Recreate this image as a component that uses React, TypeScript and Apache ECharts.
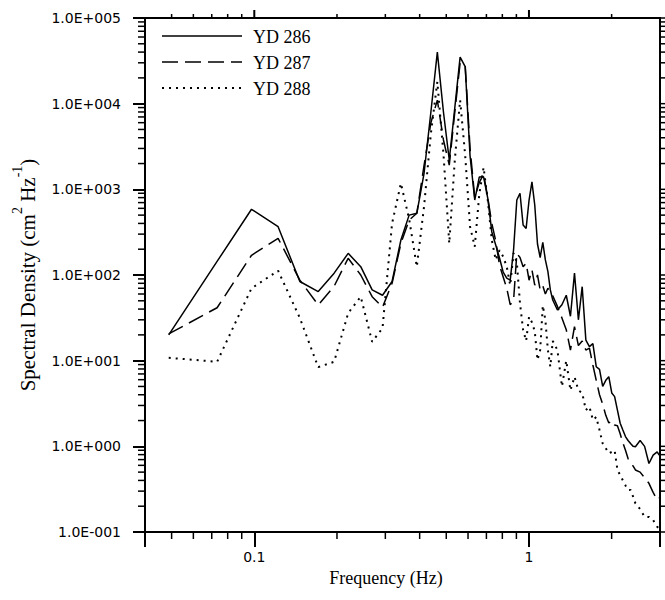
import React, { useEffect, useRef } from "react";
import * as echarts from "echarts";

// Frequencies (Hz) of the spectral estimates
const FREQ_HZ = [
  0.0488, 0.0732, 0.0977, 0.1221, 0.1465, 0.1709, 0.1953, 0.2197, 0.2441, 0.2686,
  0.293, 0.3174, 0.3418, 0.3662, 0.3906, 0.415, 0.4395, 0.4639, 0.4883, 0.5127,
  0.5371, 0.5615, 0.5859, 0.6104, 0.6348, 0.6592, 0.6836, 0.708, 0.7324, 0.7568,
  0.7813, 0.8057, 0.8301, 0.8545, 0.8789, 0.9033, 0.9277, 0.9521, 0.9766, 1.001,
  1.0254, 1.0498, 1.0742, 1.0986, 1.123, 1.1475, 1.1719, 1.1963, 1.2207,
  1.2695, 1.3184, 1.3672, 1.416, 1.4648, 1.5137, 1.5625, 1.6113, 1.6602, 1.709,
  1.7578, 1.8066, 1.8555, 1.9043, 1.9531, 2.002, 2.0508, 2.0996, 2.1484, 2.1973,
  2.2461, 2.2949, 2.3438, 2.3926, 2.4414,
  2.5391, 2.6367, 2.7344, 2.832, 2.9297, 2.9785,
];

// Spectral density (cm^2 Hz^-1)
const YD_286 = [
  20, 144, 585, 366, 84, 64, 105, 179, 125, 67,
  58, 84, 256, 500, 525, 1540, 8000, 40000, 8000, 2200,
  9000, 35000, 27000, 2450, 750, 1390, 1400, 790, 318, 224,
  158, 108, 92, 87, 196, 750, 900, 384, 350, 750,
  1220, 656, 230, 160, 240, 150, 110, 67, 51,
  39, 45, 58, 33, 105, 30, 73, 17.4, 14.6, 15.8,
  8.5, 7.9, 5.0, 5.9, 6.5, 4.2, 3.8, 2.65, 1.86, 1.55,
  1.3, 1.17, 1.08, 1.0, 0.99,
  1.17, 1.0, 0.63, 0.79, 0.86, 0.79,
];

const YD_287 = [
  20.5, 41.5, 170, 268, 87, 44.7, 74, 157, 100, 55.8,
  42, 80, 234, 438, 525, 1900, 6000, 11000, 3770, 1920,
  8000, 30000, 28000, 3000, 800, 1200, 1500, 800, 400, 250,
  130, 95, 70, 45, 50, 179, 160, 125, 137, 87,
  115, 76, 100, 67, 75, 60, 70, 63, 57,
  43, 31.5, 23, 13.3, 25, 15, 17, 13.3, 14, 8.9,
  5.9, 4.0, 3.1, 2.3, 1.87, 2.0, 1.77, 1.74, 1.4, 1.1,
  0.9, 0.72, 0.64, 0.59, 0.53,
  0.5, 0.43, 0.37, 0.29, 0.236, 0.25,
];

const YD_288 = [
  10.8, 9.7, 70, 112, 31.5, 8.4, 9.7, 36, 55.8, 16.6,
  24, 400, 1175, 450, 125, 630, 4500, 18000, 2600, 234,
  2200, 11000, 2500, 366, 214, 870, 1800, 750, 256, 150,
  195, 164, 125, 76, 180, 140, 46.6, 22.8, 17, 32.6,
  28, 22, 10.2, 13.3, 44, 30, 13.3, 8.5, 17,
  13.3, 5.0, 10, 4.5, 6.5, 4.5, 4.2, 2.65, 2.9, 2.03,
  2.2, 1.55, 1.08, 0.95, 0.83, 0.86, 0.9, 0.53, 0.46, 0.4,
  0.35, 0.31, 0.31, 0.26, 0.216,
  0.185, 0.15, 0.15, 0.138, 0.115, 0.11,
];

const SERIES_NAMES = ["YD 286", "YD 287", "YD 288"];

// Axis ranges, ticks and labels
const X_MIN = 0.04;
const X_MAX = 3;
const Y_MIN = 0.1;
const Y_MAX = 100000;
const X_MAJOR = [0.1, 1];
const X_MINOR = [0.05, 0.06, 0.07, 0.08, 0.09, 0.2, 0.3, 0.4, 0.5, 0.6, 0.7, 0.8, 0.9, 2];
const Y_MAJOR = [0.1, 1, 10, 100, 1000, 10000, 100000];
const Y_MINOR = [
  0.2, 0.3, 0.4, 0.5, 0.6, 0.7, 0.8, 0.9,
  2, 3, 4, 5, 6, 7, 8, 9,
  20, 30, 40, 50, 60, 70, 80, 90,
  200, 300, 400, 500, 600, 700, 800, 900,
  2000, 3000, 4000, 5000, 6000, 7000, 8000, 9000,
  20000, 30000, 40000, 50000, 60000, 70000, 80000, 90000,
];
const X_TITLE = "Frequency (Hz)";
const Y_TITLE_RICH = "{a|Spectral Density (cm}{s|2}{a| Hz}{s|-1}{a|)}";

const SERIF = "Liberation Serif";
const SANS = "DejaVu Sans";

function sciLabel(v: number): string {
  const e = Math.round(Math.log10(v));
  const s = String(Math.abs(e)).padStart(3, "0");
  return "1.0E" + (e < 0 ? "-" : "+") + s;
}

// side: 0 bottom, 1 top, 2 left, 3 right; len in px
function tickRows(): number[][] {
  const rows: number[][] = [];
  X_MAJOR.forEach((v) => rows.push([v, Y_MAX, 1, 8]));
  X_MINOR.forEach((v) => rows.push([v, Y_MIN, 0, 7], [v, Y_MAX, 1, 4]));
  Y_MAJOR.forEach((v) => rows.push([X_MAX, v, 3, 5]));
  Y_MINOR.forEach((v) => rows.push([X_MIN, v, 2, 7], [X_MAX, v, 3, 5]));
  return rows;
}

export default function App() {
  const ref = useRef<HTMLDivElement>(null);

  useEffect(() => {
    if (!ref.current) return;
    const chart = echarts.init(ref.current, undefined, { renderer: "svg" });

    const values = [YD_286, YD_287, YD_288];
    const dashes: any[] = ["solid", [16, 7], [2, 5]];
    const widths = [1.5, 1.5, 2];

    const lineSeries = SERIES_NAMES.map((name, i) => ({
      name,
      type: "line",
      showSymbol: false,
      symbol: "none",
      data: FREQ_HZ.map((f, j) => [f, values[i][j]]),
      lineStyle: { color: "#000", width: widths[i], type: dashes[i] },
      itemStyle: { color: "#000" },
    }));

    const tickSeries = {
      type: "custom",
      coordinateSystem: "cartesian2d",
      clip: false,
      encode: { x: 0, y: 1 },
      data: tickRows(),
      z: 10,
      renderItem: (_params: any, api: any) => {
        const p = api.coord([api.value(0), api.value(1)]);
        const side = api.value(2);
        const len = api.value(3);
        let x2 = p[0];
        let y2 = p[1];
        if (side === 0) y2 += len;
        else if (side === 1) y2 -= len;
        else if (side === 2) x2 -= len;
        else x2 += len;
        return {
          type: "line",
          shape: { x1: p[0], y1: p[1], x2, y2 },
          style: { stroke: "#000", lineWidth: len >= 8 ? 2 : 1.5 },
        };
      },
    };

    chart.setOption({
      animation: false,
      grid: {
        left: 145,
        right: 5,
        top: 18,
        bottom: 68,
        show: true,
        borderColor: "#000",
        borderWidth: 2,
        backgroundColor: "transparent",
      },
      xAxis: {
        type: "log",
        min: X_MIN,
        max: X_MAX,
        position: "bottom",
        splitLine: { show: false },
        axisLine: { show: true, lineStyle: { color: "#000", width: 2 } },
        axisTick: { show: true, length: 15, lineStyle: { color: "#000", width: 2 } },
        axisLabel: {
          customValues: X_MAJOR,
          formatter: (v: number) => String(v),
          margin: 18,
          fontFamily: SANS,
          fontSize: 14,
          color: "#000",
        },
        name: X_TITLE,
        nameLocation: "middle",
        nameGap: 33,
        nameTextStyle: { fontFamily: SERIF, fontSize: 18, color: "#000", padding: [0, 33, 0, 0] },
      },
      yAxis: {
        type: "log",
        min: Y_MIN,
        max: Y_MAX,
        position: "left",
        splitLine: { show: false },
        axisLine: { show: true, lineStyle: { color: "#000", width: 2 } },
        axisTick: { show: true, length: 12, lineStyle: { color: "#000", width: 2 } },
        axisLabel: {
          customValues: Y_MAJOR,
          formatter: (v: number) => sciLabel(v),
          margin: 24,
          fontFamily: SANS,
          fontSize: 14,
          color: "#000",
        },
      },
      series: [...lineSeries, tickSeries],
    });

    const graphics: any[] = [];

    // hand-drawn legend (samples + labels)
    const legendRowsY = [36, 62, 88];
    SERIES_NAMES.forEach((name, i) => {
      const y = legendRowsY[i];
      graphics.push({
        type: "line",
        shape: { x1: 162, y1: y, x2: 242, y2: y },
        style: {
          stroke: "#000",
          lineWidth: widths[i],
          lineDash: i === 0 ? null : dashes[i],
        },
      });
      graphics.push({
        type: "text",
        x: 253,
        y: y + 1,
        style: {
          text: name,
          fontFamily: SERIF,
          fontSize: 18,
          fill: "#000",
          align: "left",
          verticalAlign: "middle",
        },
      });
    });

    graphics.push({
      type: "text",
      x: 24,
      y: 275,
      rotation: Math.PI / 2,
      style: {
        text: Y_TITLE_RICH,
        fontFamily: SERIF,
        fontSize: 21,
        fill: "#000",
        align: "center",
        verticalAlign: "middle",
        rich: {
          a: { fontFamily: SERIF, fontSize: 21, fill: "#000", lineHeight: 28, verticalAlign: "bottom" },
          s: { fontFamily: SERIF, fontSize: 14, fill: "#000", lineHeight: 28, verticalAlign: "top" },
        },
      },
    });

    chart.setOption({ graphic: graphics });

    return () => {
      chart.dispose();
    };
  }, []);

  return <div ref={ref} style={{ position: "absolute", left: 0, top: 0, width: 665, height: 600 }} />;
}
